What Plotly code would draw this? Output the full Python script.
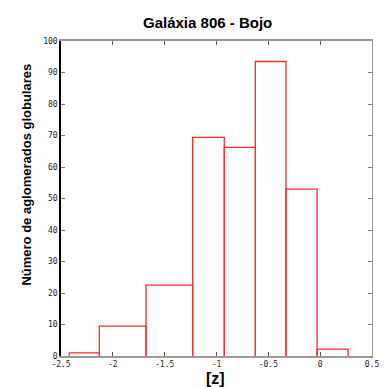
import plotly.graph_objects as go

# Data
bin_edges = [-2.42, -2.13, -1.68, -1.23, -0.925, -0.625, -0.33, -0.03, 0.27]
counts = [1, 9.5, 22.5, 69.4, 66.2, 93.5, 53, 2.2]
x_ticks = [-2.5, -2, -1.5, -1, -0.5, 0, 0.5]
x_tick_labels = ["-2.5", "-2", "-1.5", "-1", "-0.5", "0", "0.5"]
y_ticks = [0, 10, 20, 30, 40, 50, 60, 70, 80, 90, 100]
y_tick_labels = [str(v) for v in y_ticks]

# Box outlines (open at the bottom, like gnuplot boxes sitting on the axis)
bx, by = [], []
for left, right, h in zip(bin_edges[:-1], bin_edges[1:], counts):
    bx += [left, left, right, right, None]
    by += [0, h, h, 0, None]

fig = go.Figure()
fig.add_trace(go.Scatter(
    x=bx, y=by, mode="lines",
    line=dict(color="#ff2a2a", width=1.3),
    showlegend=False, hoverinfo="skip",
))
# invisible trace for right axis
fig.add_trace(go.Scatter(x=[None], y=[None], yaxis="y2", showlegend=False))

tickfont = dict(family="DejaVu Sans Mono", size=8, color="#222")
fig.update_layout(
    width=391, height=387,
    margin=dict(l=61, r=14, t=41, b=31),
    paper_bgcolor="white", plot_bgcolor="white",
    xaxis=dict(range=[-2.5, 0.5], tickvals=x_ticks, ticktext=x_tick_labels,
               ticks="inside", ticklen=4, tickcolor="#555", tickwidth=1,
               showline=True, linecolor="#999", linewidth=1.5, mirror="ticks",
               showgrid=False, zeroline=False, tickfont=tickfont),
    yaxis=dict(range=[0, 100], tickvals=y_ticks, ticktext=y_tick_labels,
               ticks="inside", ticklen=4, tickcolor="#777", tickwidth=1,
               showline=True, linecolor="black", linewidth=1.5, mirror=False,
               showgrid=False, zeroline=False, tickfont=tickfont),
    yaxis2=dict(range=[0, 100], tickvals=y_ticks, overlaying="y", side="right",
                ticks="inside", ticklen=4, tickcolor="#777", showticklabels=False,
                showline=True, linecolor="#999", linewidth=1, showgrid=False,
                zeroline=False),
    annotations=[
        dict(text="<b>Galáxia 806 - Bojo</b>", xref="paper", yref="paper",
             x=(210 - 61) / 316, y=(356 - 23) / 315, showarrow=False,
             font=dict(family="Liberation Sans", size=15, color="black"),
             xanchor="center", yanchor="middle"),
        dict(text="<b>Número de aglomerados globulares</b>", xref="paper", yref="paper",
             x=(25 - 61) / 316, y=(356 - 175) / 315, showarrow=False, textangle=-90,
             font=dict(family="Liberation Sans", size=13, color="black"),
             xanchor="center", yanchor="middle"),
        dict(text="<b>[z]</b>", xref="paper", yref="paper",
             x=(218 - 61) / 316, y=(356 - 378) / 315, showarrow=False,
             font=dict(family="Liberation Sans", size=16, color="black"),
             xanchor="center", yanchor="middle"),
    ],
)

fig.write_html("out.html")
